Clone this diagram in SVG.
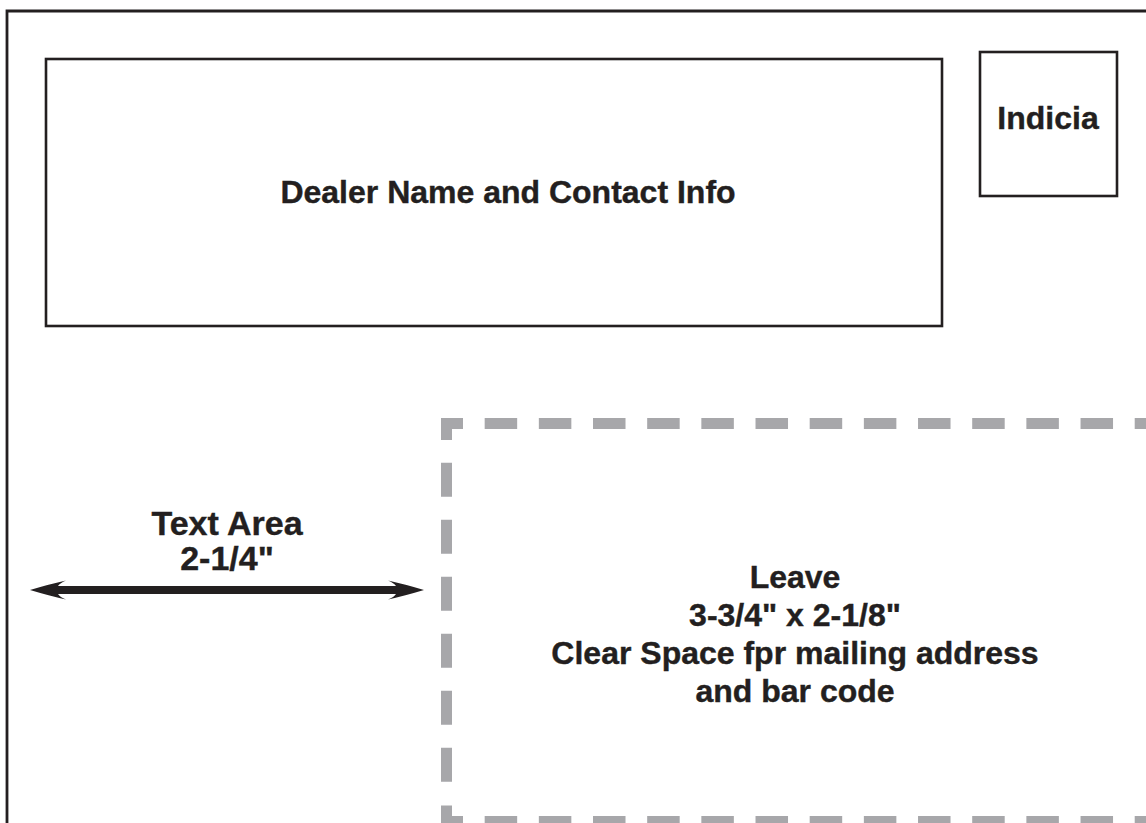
<svg xmlns="http://www.w3.org/2000/svg" width="1146" height="823" viewBox="0 0 1146 823">
<style>
.frame{fill:none;stroke:#231f20;stroke-width:2.8}
.box{fill:none;stroke:#231f20;stroke-width:2.6}
.dash{fill:none;stroke:#a7a7aa;stroke-width:11;stroke-linecap:butt}
.h{stroke-dasharray:32.5 21.67;stroke-dashoffset:10.5}
.t{font-family:"Liberation Sans",Arial,Helvetica,sans-serif;font-weight:bold;font-size:32px;fill:#231f20;stroke:#231f20;stroke-width:0.4;text-anchor:middle}
.big{font-size:34px}
</style>
<rect width="1146" height="823" fill="#ffffff"/>
<g id="frame">
<path class="frame" d="M7,830 V11 H1160"/>
</g>
<g id="dealer">
<rect class="box" x="46" y="59" width="896" height="267"/>
<text class="t" x="508" y="203">Dealer Name and Contact Info</text>
</g>
<g id="indicia">
<rect class="box" x="980" y="52" width="137" height="144"/>
<text class="t" x="1048" y="129">Indicia</text>
</g>
<g id="clear-space">
<line class="dash h" x1="441" y1="423.5" x2="1160" y2="423.5"/>
<line class="dash h" x1="441" y1="821.5" x2="1160" y2="821.5"/>
<line class="dash" x1="446.5" y1="418" x2="446.5" y2="840" style="stroke-dasharray:22 22.7 34 23 34 23 34 23 34 23 34 23 34 23.7 40"/>
<text class="t" x="795" y="588">Leave</text>
<text class="t" x="795" y="626">3-3/4" x 2-1/8"</text>
<text class="t" x="795" y="664">Clear Space fpr mailing address</text>
<text class="t" x="795" y="702">and bar code</text>
</g>
<g id="text-area">
<text class="t big" x="227" y="535">Text Area</text>
<text class="t big" x="227" y="570">2-1/4"</text>
</g>
<g id="connectors">
<path d="M30,590 Q50,584 66,580.5 Q60,583 58,586 H396 Q394,583 388,580.5 Q404,584 424,590 Q404,596 388,599.5 Q394,597 396,594 H58 Q60,597 66,599.5 Q50,596 30,590 Z" fill="#231f20"/>
</g>
</svg>
